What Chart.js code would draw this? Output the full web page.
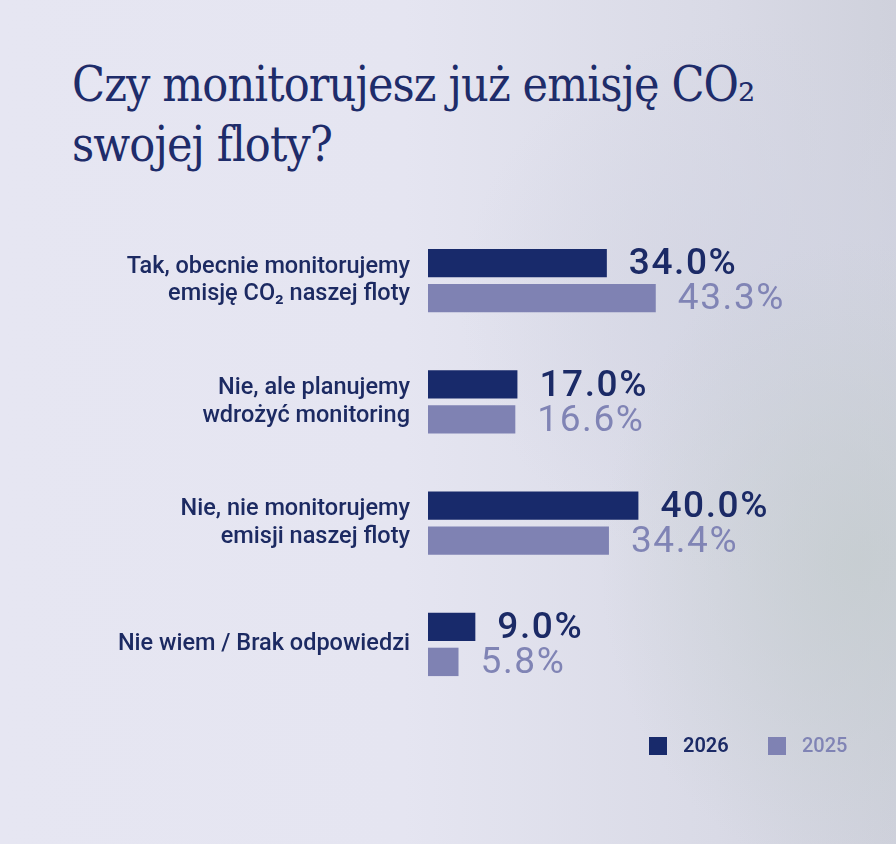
<!DOCTYPE html>
<html>
<head>
<meta charset="utf-8">
<script src="https://cdn.jsdelivr.net/npm/chart.js@4.4.0/dist/chart.umd.min.js"></script>
<style>
  html, body { margin: 0; padding: 0; }
  body {
    width: 896px; height: 844px; overflow: hidden; position: relative;
    background:
      radial-gradient(ellipse 260px 320px at 860px 560px, rgba(196,204,206,0.75), rgba(196,204,206,0) 100%),
      radial-gradient(ellipse 320px 280px at 780px 300px, rgba(210,212,226,0.85), rgba(210,212,226,0) 100%),
      linear-gradient(to right, #e6e6f2 0%, #e5e5f1 45%, #d9dae6 80%, #cfd1dc 100%);
  }
  #title {
    position: absolute; left: 72px; top: 54px; margin: 0;
    font-family: "DejaVu Serif Condensed", "DejaVu Serif", serif;
    font-weight: normal; font-size: 48px; line-height: 60px;
    color: #1e2c6a; letter-spacing: -0.9px;
  }
  canvas { position: absolute; left: 0; top: 0; }
</style>
</head>
<body>
<h1 id="title">Czy monitorujesz już emisję CO₂<br>swojej floty?</h1>
<canvas id="myChart" width="896" height="844"></canvas>
<script>
var categories = [
  ["Tak, obecnie monitorujemy", "emisję CO₂ naszej floty"],
  ["Nie, ale planujemy", "wdrożyć monitoring"],
  ["Nie, nie monitorujemy", "emisji naszej floty"],
  "Nie wiem / Brak odpowiedzi"
];
var seriesNames = ["2026", "2025"];
var values2026 = [34.0, 17.0, 40.0, 9.0];
var values2025 = [43.3, 16.6, 34.4, 5.8];

var navy = '#182a6b';
var lilac = '#7f82b3';

var valueLabels = {
  id: 'valueLabels',
  afterDatasetsDraw: function(chart) {
    var ctx = chart.ctx;
    ctx.save();
    ctx.textAlign = 'left';
    ctx.textBaseline = 'middle';
    ctx.letterSpacing = '1.6px';
    chart.data.datasets.forEach(function(ds, i) {
      var meta = chart.getDatasetMeta(i);
      ctx.fillStyle = i === 0 ? '#1b2a66' : '#8084b5';
      ctx.font = (i === 0 ? '500 ' : '400 ') + '37px Roboto';
      meta.data.forEach(function(bar, n) {
        ctx.fillText(ds.data[n].toFixed(1) + '%', bar.x + 22, bar.y + 2);
      });
    });
    ctx.restore();
  }
};

var sideLegend = {
  id: 'sideLegend',
  afterDraw: function(chart) {
    var ctx = chart.ctx;
    var area = chart.chartArea;
    var y = area.bottom + 41;
    var xs = [649, 768];
    ctx.save();
    ctx.textBaseline = 'middle';
    ctx.textAlign = 'left';
    chart.data.datasets.forEach(function(ds, i) {
      ctx.fillStyle = ds.backgroundColor;
      ctx.fillRect(xs[i], y - 9, 18, 18);
      ctx.fillStyle = i === 0 ? '#1b2a66' : '#8084b5';
      ctx.font = (i === 0 ? '600 ' : '500 ') + '20px Roboto';
      ctx.fillText(ds.label, xs[i] + 34, y + 1);
    });
    ctx.restore();
  }
};

var ctx = document.getElementById('myChart').getContext('2d');
var myChart = new Chart(ctx, {
  type: 'bar',
  data: {
    labels: categories,
    datasets: [
      { label: seriesNames[0], data: values2026, backgroundColor: navy },
      { label: seriesNames[1], data: values2025, backgroundColor: lilac }
    ]
  },
  options: {
    indexAxis: 'y',
    responsive: false,
    animation: false,
    categoryPercentage: 0.578,
    barPercentage: 0.81,
    layout: { padding: { top: 220, bottom: 139, left: 0, right: 13 } },
    plugins: {
      legend: { display: false },
      tooltip: { enabled: false }
    },
    scales: {
      x: { display: false, min: 0, max: 86.5 },
      y: {
        grid: { display: false },
        border: { display: false },
        afterFit: function(scale) { scale.width = 428; },
        ticks: {
          padding: 10,
          color: '#1c2a62',
          font: { family: 'Roboto', size: 23.5, weight: '500', lineHeight: 1.18 }
        }
      }
    }
  },
  plugins: [valueLabels, sideLegend]
});
</script>
</body>
</html>
